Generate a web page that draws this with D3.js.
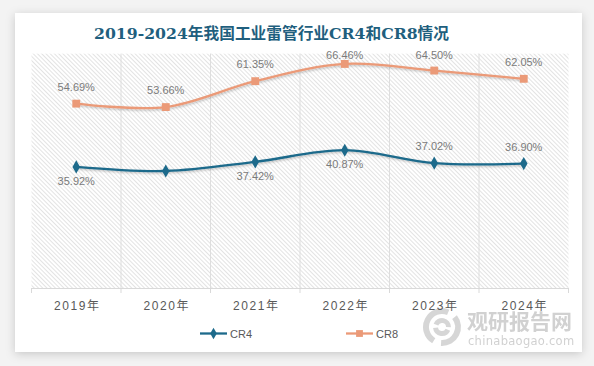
<!DOCTYPE html>
<html><head><meta charset="utf-8">
<script src="https://cdn.jsdelivr.net/npm/d3@7"></script>
<style>
html,body{margin:0;padding:0;background:#f3f3f3;}
svg{display:block;}
</style></head>
<body>
<svg id="chart" width="594" height="366"></svg>
<script>
const years = ["2019年","2020年","2021年","2022年","2023年","2024年"];
const cr4 = [35.92, 34.70, 37.42, 40.87, 37.02, 36.90];
const cr8 = [54.69, 53.66, 61.35, 66.46, 64.50, 62.05];
const seriesNames = ["CR4","CR8"];
const titleText = "2019-2024年我国工业雷管行业CR4和CR8情况";

const svg = d3.select("#chart");
const defs = svg.append("defs");

const sh = defs.append("filter").attr("id","cardShadow").attr("x","-10%").attr("y","-10%").attr("width","120%").attr("height","120%");
sh.append("feDropShadow").attr("dx",0).attr("dy",2).attr("stdDeviation",5).attr("flood-color","#000").attr("flood-opacity",0.18);

const lsh = defs.append("filter").attr("id","lineShadow").attr("x","-5%").attr("y","-20%").attr("width","110%").attr("height","140%");
lsh.append("feDropShadow").attr("dx",0.8).attr("dy",1.2).attr("stdDeviation",0.8).attr("flood-color","#000").attr("flood-opacity",0.25);

const pat = defs.append("pattern").attr("id","hatch").attr("patternUnits","userSpaceOnUse")
  .attr("width",3).attr("height",3).attr("patternTransform","rotate(-45)");
pat.append("rect").attr("width",3).attr("height",3).attr("fill","#ffffff");
pat.append("line").attr("x1",0).attr("y1",0).attr("x2",0).attr("y2",3).attr("stroke","#d0d0d0").attr("stroke-width",1.2);

// card
svg.append("rect").attr("x",15).attr("y",13).attr("width",567).attr("height",339)
  .attr("fill","#fff").attr("filter","url(#cardShadow)");

// title
svg.append("text").attr("x",94).attr("y",39)
  .attr("font-family","'DejaVu Serif','Noto Sans CJK SC',serif").attr("font-weight","bold")
  .attr("font-size",15.7).attr("fill","#1f5f7e").text(titleText);

const margin = {left:31.5, right:568.5, top:52, bottom:288};
const x = d3.scaleBand().domain(years).range([margin.left, margin.right]);
const y = d3.scaleLinear().domain([0,70]).range([margin.bottom, margin.top]);

// plot area hatch
svg.append("rect").attr("x",margin.left).attr("y",y(69.5)).attr("width",margin.right-margin.left)
  .attr("height",margin.bottom-y(69.5)).attr("fill","url(#hatch)");

// vertical gridlines at band boundaries
const bounds = years.slice(1).map(d => x(d));
svg.append("g").selectAll("line").data(bounds).join("line")
  .attr("x1",d=>d).attr("x2",d=>d).attr("y1",y(69.5)).attr("y2",margin.bottom)
  .attr("stroke","#dedede").attr("stroke-width",1);

// x axis
const xAxis = d3.axisBottom(x).tickSize(0).tickFormat("");
const gx = svg.append("g").attr("transform",`translate(0,${margin.bottom})`).call(xAxis);
gx.select(".domain").attr("stroke","#d9d9d9").attr("stroke-width",1.2);
const tickPos = [margin.left, ...bounds, margin.right];
gx.append("g").selectAll("line").data(tickPos).join("line")
  .attr("x1",d=>d).attr("x2",d=>d).attr("y1",0).attr("y2",5).attr("stroke","#d9d9d9").attr("stroke-width",1);

const cx = (d,i) => x(years[i]) + x.bandwidth()/2;
const line = d3.line().x((d,i)=>cx(d,i)).y(d=>y(d)).curve(d3.curveCardinal.tension(0));

const colors = {CR4:"#1d6a8b", CR8:"#eb9a78"};

// watermark
const wm = svg.append("g").attr("opacity",0.85);
wm.append("text").attr("x",467).attr("y",329).attr("font-family","'Noto Sans CJK SC',sans-serif")
  .attr("font-weight","bold").attr("font-size",21).attr("fill","#c9c9c9").text("观研报告网");
wm.append("text").attr("x",468).attr("y",345).attr("font-family","'DejaVu Sans',sans-serif")
  .attr("font-size",11.5).attr("fill","#c9c9c9").attr("letter-spacing","0.3px").text("chinabaogao.com");
const lg = wm.append("g").attr("transform","translate(442,327)");
lg.append("path").attr("d",d3.arc()({innerRadius:13,outerRadius:19,startAngle:-2.6,endAngle:0.4})).attr("fill","#d0d0d0");
lg.append("path").attr("d",d3.arc()({innerRadius:13,outerRadius:19,startAngle:0.9,endAngle:3.2})).attr("fill","#d0d0d0");
lg.append("path").attr("d",d3.arc()({innerRadius:4,outerRadius:9,startAngle:-1.2,endAngle:1.6})).attr("fill","#d0d0d0");
lg.append("path").attr("d",d3.arc()({innerRadius:4,outerRadius:9,startAngle:2.0,endAngle:4.6})).attr("fill","#d0d0d0");

// x labels (drawn over watermark)
svg.append("g").selectAll("text").data(years).join("text")
  .attr("x",d=>x(d)+x.bandwidth()/2+1).attr("y",310)
  .attr("text-anchor","middle").attr("font-family","'Liberation Sans','Noto Sans CJK SC',sans-serif")
  .attr("font-size",12).attr("letter-spacing","1.6px").attr("fill","#595959").text(d=>d);

// series
const data = [{name:"CR4", values:cr4, sym:d3.symbolDiamond, size:50},
              {name:"CR8", values:cr8, sym:d3.symbolSquare, size:62}];
data.forEach(s=>{
  svg.append("path").datum(s.values).attr("d",line).attr("fill","none")
    .attr("stroke",colors[s.name]).attr("stroke-width",2.3).attr("filter","url(#lineShadow)");
  svg.append("g").selectAll("path").data(s.values).join("path")
    .attr("transform",(d,i)=>`translate(${cx(d,i)},${y(d)})`)
    .attr("d",d3.symbol().type(s.sym).size(s.size)).attr("fill",colors[s.name]);
});

// labels
const cr4Place = ["below", null, "below", "below", "above", "above"];
svg.append("g").selectAll("text").data(cr8).join("text")
  .attr("x",(d,i)=>cx(d,i)).attr("y",d=>Math.max(y(d)-13, 59))
  .attr("text-anchor","middle").attr("font-family","'Liberation Sans',sans-serif")
  .attr("font-size",11).attr("fill","#7b7b7b").text(d=>d.toFixed(2)+"%");
svg.append("g").selectAll("text").data(cr4.map((v,i)=>({v,i})).filter(o=>cr4Place[o.i])).join("text")
  .attr("x",o=>cx(o.v,o.i)).attr("y",o=> cr4Place[o.i]==="below" ? y(o.v)+18 : y(o.v)-13)
  .attr("text-anchor","middle").attr("font-family","'Liberation Sans',sans-serif")
  .attr("font-size",11).attr("fill","#7b7b7b").text(o=>o.v.toFixed(2)+"%");

// legend
const legX = [200, 346];
data.forEach((s,k)=>{
  const g = svg.append("g").attr("transform",`translate(${legX[k]},333.5)`);
  g.append("line").attr("x1",0).attr("x2",27).attr("stroke",colors[s.name]).attr("stroke-width",2.3);
  g.append("path").attr("transform","translate(13.5,0)").attr("d",d3.symbol().type(s.sym).size(s.size*0.75)).attr("fill",colors[s.name]);
  g.append("text").attr("x",30).attr("y",4).attr("font-family","'Liberation Sans',sans-serif")
    .attr("font-size",11).attr("fill","#595959").text(s.name);
});
</script>
</body></html>
